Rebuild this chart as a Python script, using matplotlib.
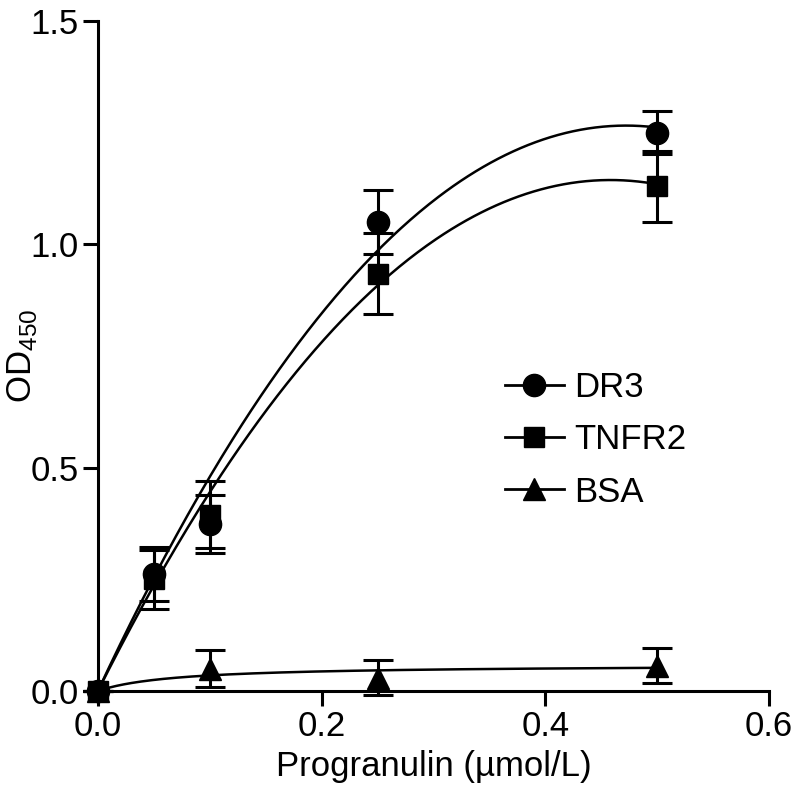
import numpy as np
import matplotlib
matplotlib.use('Agg')
import matplotlib.pyplot as plt

plt.rcParams['font.family'] = ['Liberation Sans', 'DejaVu Sans']
plt.rcParams['mathtext.fontset'] = 'custom'
plt.rcParams['mathtext.rm'] = 'Liberation Sans'

# concentrations (umol/L)
conc = [0.0, 0.05, 0.1, 0.25, 0.5]

# mean OD450 and error
dr3_mean = [0.0, 0.262, 0.375, 1.05, 1.25]
dr3_err = [0.0, 0.06, 0.065, 0.072, 0.048]
tnfr2_mean = [0.0, 0.25, 0.395, 0.935, 1.13]
tnfr2_err = [0.0, 0.066, 0.075, 0.09, 0.08]

bsa_conc = [0.0, 0.1, 0.25, 0.5]
bsa_mean = [0.0, 0.05, 0.03, 0.057]
bsa_err = [0.0, 0.042, 0.04, 0.039]

# one-site binding curve for BSA
bsa_bmax = 0.059
bsa_kd = 0.069

labels = ['DR3', 'TNFR2', 'BSA']
markers = ['o', 's', '^']


def quad_fit(x, y):
    # least squares y = b*x + c*x^2 (through origin)
    x = np.asarray(x); y = np.asarray(y)
    A = np.column_stack([x, x ** 2])
    coef, *_ = np.linalg.lstsq(A, y, rcond=None)
    return lambda t: coef[0] * t + coef[1] * t ** 2


fig = plt.figure(figsize=(7.96, 7.87), dpi=100)
ax = fig.add_axes([0.123, 0.122, 0.843, 0.851])

xs = np.linspace(0, 0.5, 300)
fits = [quad_fit(conc, dr3_mean), quad_fit(conc, tnfr2_mean),
        lambda t: bsa_bmax * t / (bsa_kd + t)]
data = [(conc, dr3_mean, dr3_err), (conc, tnfr2_mean, tnfr2_err),
        (bsa_conc, bsa_mean, bsa_err)]
msizes = [16, 15, 16]

for (x, y, e), fit, mk, ms, lab in zip(data, fits, markers, msizes, labels):
    ax.plot(xs, fit(xs), color='black', lw=1.8, zorder=2)
    ax.errorbar(x, y, yerr=e, fmt=mk, color='black', ms=ms, elinewidth=2.2,
                capsize=11, capthick=2.2, clip_on=False, zorder=3)
    ax.plot([], [], color='black', lw=2, marker=mk, ms=ms, label=lab)

ax.set_xlim(0, 0.6)
ax.set_ylim(0, 1.5)
ax.set_xticks([0.0, 0.2, 0.4, 0.6])
ax.set_yticks([0.0, 0.5, 1.0, 1.5])
ax.xaxis.set_major_formatter(matplotlib.ticker.FormatStrFormatter('%.1f'))
ax.yaxis.set_major_formatter(matplotlib.ticker.FormatStrFormatter('%.1f'))

for s in ['top', 'right']:
    ax.spines[s].set_visible(False)
for s in ['left', 'bottom']:
    ax.spines[s].set_linewidth(2.2)
ax.tick_params(width=2.2, length=11, labelsize=25, pad=3)

ax.set_xlabel('Progranulin (µmol/L)', fontsize=25, labelpad=5)
ax.set_ylabel(r'OD$_{\mathregular{450}}$', fontsize=25)
ax.yaxis.set_label_coords(-0.088, 0.5)

ax.legend(loc='center left', bbox_to_anchor=(0.634, 0.441), bbox_transform=fig.transFigure,
          frameon=False, fontsize=25, handlelength=1.7, handletextpad=0.3,
          labelspacing=0.55, borderpad=0, borderaxespad=0)

fig.savefig('out.png', dpi=100)
plt.close(fig)
